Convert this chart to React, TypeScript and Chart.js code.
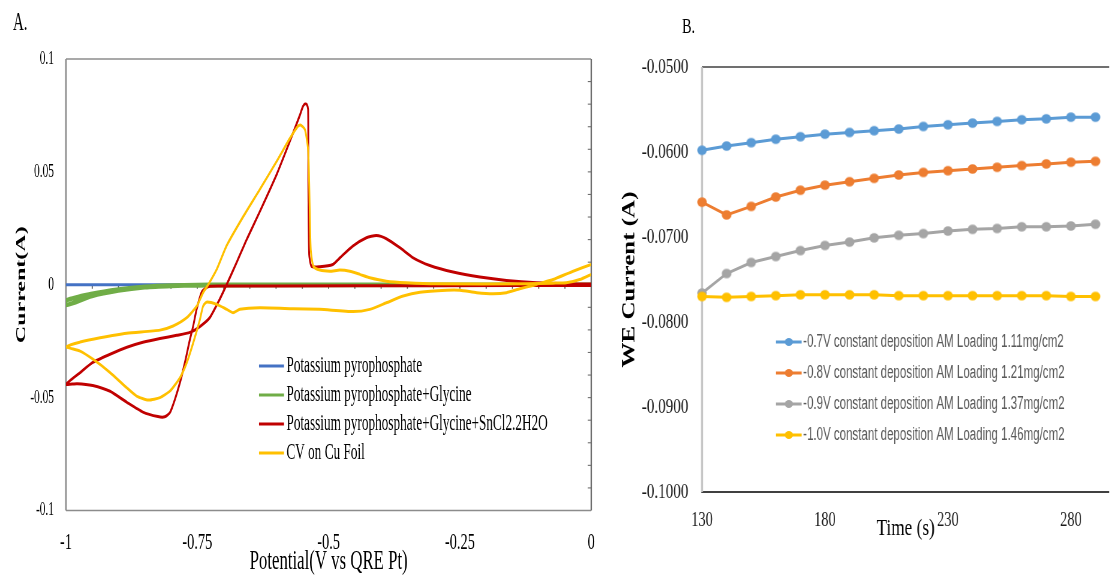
import React, { useEffect, useRef } from 'react';
import { Chart, registerables } from 'chart.js';

Chart.register(...registerables);

const SERIF = "'Liberation Serif', 'Times New Roman', serif";
const SANS = "'Liberation Sans', Arial, sans-serif";

// ================= Panel A : cyclic voltammetry =================
const seriesNamesA = [
  'Potassium pyrophosphate',
  'Potassium pyrophosphate+Glycine',
  'Potassium pyrophosphate+Glycine+SnCl2.2H2O',
  'CV on Cu Foil',
];
const colorsA = ['#4472C4', '#70AD47', '#C00000', '#FFC000'];

const bluePotential = [0, -0.25, -0.5, -0.75, -1];
const blueCurrent = [0, 0, 0, 0, 0];

const greenPotential = [0, -0.5, -0.7, -0.75, -0.8, -0.85, -0.9, -0.95, -1, -1, -0.95, -0.9, -0.85, -0.8, -0.75, -0.7, -0.5, 0];
const greenCurrent = [0, -0.0001, -0.0002, -0.0003, -0.0005, -0.0011, -0.0026, -0.0050, -0.0090, -0.0070, -0.0040, -0.0021, -0.0009, -0.0003, -0.0001, 0, 0, 0];

const redPotential = [
  0, -0.3, -0.6, -0.7, -0.728, -0.741, -0.7513, -0.7578, -0.764, -0.7736, -0.783, -0.7926, -0.802, -0.812, -0.825, -0.8535, -0.884, -0.916, -0.949, -0.979, -1.0,
  -0.973, -0.949, -0.916, -0.884, -0.8535, -0.821, -0.789, -0.764, -0.745, -0.726, -0.7075, -0.694, -0.675, -0.656, -0.631, -0.599, -0.5675, -0.555, -0.549, -0.545,
  -0.5415, -0.539, -0.5385, -0.537, -0.5326, -0.5167, -0.492, -0.4786, -0.454, -0.428, -0.409, -0.39, -0.3644, -0.339, -0.3073, -0.263, -0.212, -0.1613, -0.1042, -0.05, 0,
];
const redCurrent = [
  -0.0003, -0.0004, -0.0005, -0.0006, -0.0008, -0.003, -0.0109, -0.0183, -0.0242, -0.0345, -0.0434, -0.0508, -0.0566, -0.0585, -0.0584, -0.0564, -0.0521, -0.0472, -0.0446, -0.0438, -0.0441,
  -0.0389, -0.0344, -0.0308, -0.0277, -0.0255, -0.0238, -0.0224, -0.0211, -0.0185, -0.0145, -0.0065, 0.0001, 0.0099, 0.02, 0.0324, 0.0488, 0.0673, 0.0749, 0.0789, 0.0801,
  0.0798, 0.0776, 0.0453, 0.0134, 0.0082, 0.008, 0.009, 0.0119, 0.0171, 0.0208, 0.0218, 0.0204, 0.0164, 0.0119, 0.0085, 0.0056, 0.0034, 0.0019, 0.0009, 0.0004, 0.0003,
];

const yellowPotential = [
  0, -0.0345, -0.0727, -0.098, -0.111, -0.136, -0.1613, -0.187, -0.218, -0.25, -0.2755, -0.326, -0.358, -0.39, -0.4215, -0.453, -0.517, -0.5675, -0.631,
  -0.669, -0.6816, -0.694, -0.713, -0.7324, -0.739, -0.745, -0.7577, -0.77, -0.783, -0.802, -0.821, -0.843, -0.8655, -0.8845, -0.916, -0.948, -0.973, -1.0,
  -0.973, -0.935, -0.8845, -0.821, -0.796, -0.77, -0.751, -0.739, -0.729, -0.713, -0.694, -0.6626, -0.631, -0.599, -0.574, -0.558, -0.553, -0.545,
  -0.539, -0.537, -0.534, -0.529, -0.5167, -0.4976, -0.4786, -0.4596, -0.4405, -0.4215, -0.39, -0.352, -0.295, -0.1237, -0.073, -0.0475, -0.022, 0,
];
const yellowCurrent = [
  0.009, 0.006, 0.0023, 0.0006, -0.0003, -0.0018, -0.0035, -0.004, -0.0035, -0.0024, -0.0024, -0.0033, -0.005, -0.008, -0.0109, -0.0119, -0.0109, -0.0106, -0.0102,
  -0.0109, -0.0124, -0.0109, -0.0087, -0.0077, -0.0095, -0.0154, -0.0257, -0.0345, -0.0412, -0.0471, -0.05, -0.0511, -0.0493, -0.0456, -0.0389, -0.0331, -0.0294, -0.0274,
  -0.0254, -0.0235, -0.0215, -0.0201, -0.0183, -0.0146, -0.0095, -0.0035, 0.0001, 0.0068, 0.0174, 0.0302, 0.0422, 0.0546, 0.0647, 0.0703, 0.0707, 0.0687,
  0.0599, 0.0453, 0.0156, 0.0082, 0.0065, 0.006, 0.0065, 0.006, 0.0046, 0.0031, 0.0016, 0.0009, 0.0004, 0.0004, 0.0007, 0.0009, 0.0023, 0.0046,
];

const xTickValuesA = [-1, -0.75, -0.5, -0.25, 0];
const xTickLabelsA = ['-1', '-0.75', '-0.5', '-0.25', '0'];
const yTickValuesA = [0.1, 0.05, 0, -0.05, -0.1];
const yTickLabelsA = ['0.1', '0.05', '0', '-0.05', '-0.1'];

// ================= Panel B : constant deposition =================
const seriesNamesB = [
  '-0.7V constant deposition AM Loading 1.11mg/cm2',
  '-0.8V constant deposition AM Loading 1.21mg/cm2',
  '-0.9V constant deposition AM Loading 1.37mg/cm2',
  '-1.0V constant deposition AM Loading 1.46mg/cm2',
];
const colorsB = ['#5B9BD5', '#ED7D31', '#A5A5A5', '#FFC000'];
const timeB = [130, 140, 150, 160, 170, 180, 190, 200, 210, 220, 230, 240, 250, 260, 270, 280, 290];
const current07 = [-0.0598, -0.0593, -0.0589, -0.0585, -0.0582, -0.0579, -0.0577, -0.0575, -0.0573, -0.0570, -0.0568, -0.0566, -0.0564, -0.0562, -0.0561, -0.0559, -0.0559];
const current08 = [-0.0659, -0.0674, -0.0664, -0.0653, -0.0645, -0.0639, -0.0635, -0.0631, -0.0627, -0.0624, -0.0622, -0.0620, -0.0618, -0.0616, -0.0614, -0.0612, -0.0611];
const current09 = [-0.0766, -0.0743, -0.0730, -0.0723, -0.0716, -0.0710, -0.0706, -0.0701, -0.0698, -0.0696, -0.0693, -0.0691, -0.0690, -0.0688, -0.0688, -0.0687, -0.0685];
const current10 = [-0.0770, -0.0771, -0.0770, -0.0769, -0.0768, -0.0768, -0.0768, -0.0768, -0.0769, -0.0769, -0.0769, -0.0769, -0.0769, -0.0769, -0.0769, -0.0770, -0.0770];

const xTickValuesB = [130, 180, 230, 280];
const xTickLabelsB = ['130', '180', '230', '280'];
const yTickValuesB = [-0.05, -0.06, -0.07, -0.08, -0.09, -0.1];
const yTickLabelsB = ['-0.0500', '-0.0600', '-0.0700', '-0.0800', '-0.0900', '-0.1000'];

// ================= geometry (the reference is horizontally condensed) =================
const A_LOG_W = 1034;
const A_DISP_W = 620;
const SX_A = A_DISP_W / A_LOG_W;
const B_LOG_W = 688;
const B_DISP_W = 495;
const SX_B = B_DISP_W / B_LOG_W;
const H = 575;

function labelFor(values: number[], labels: string[], v: number) {
  const i = values.findIndex((t) => Math.abs(t - v) < 1e-9);
  return i >= 0 ? labels[i] : '';
}

function line(ctx: CanvasRenderingContext2D, x1: number, y1: number, x2: number, y2: number) {
  ctx.beginPath();
  ctx.moveTo(x1, y1);
  ctx.lineTo(x2, y2);
  ctx.stroke();
}

function condensedText(ctx: CanvasRenderingContext2D, text: string, x: number, y: number, k: number) {
  ctx.save();
  ctx.translate(x, y);
  ctx.scale(k, 1);
  ctx.fillText(text, 0, 0);
  ctx.restore();
}

function buildChartA(canvas: HTMLCanvasElement) {
  const series = [
    [bluePotential, blueCurrent],
    [greenPotential, greenCurrent],
    [redPotential, redCurrent],
    [yellowPotential, yellowCurrent],
  ];
  const datasets = series.map(([xs, ys], i) => ({
    label: seriesNamesA[i],
    data: xs.map((x, j) => ({ x, y: ys[j] })),
    borderColor: colorsA[i],
    backgroundColor: colorsA[i],
    borderWidth: i === 1 ? 4.5 : 3,
    pointRadius: 0,
    tension: i >= 2 ? 0.2 : 0.3,
    fill: false,
    order: 4 - i,
  }));

  const frameA = {
    id: 'frameA',
    beforeDatasetsDraw(chart: any) {
      const { ctx, chartArea: { left, right, top, bottom } } = chart;
      const xs = chart.scales.x;
      const ys = chart.scales.y;
      ctx.save();
      ctx.strokeStyle = '#8c8c8c';
      ctx.lineWidth = 1.3;
      line(ctx, left, top, right, top);
      ctx.lineWidth = 1.6;
      line(ctx, left, bottom, right, bottom);
      ctx.lineWidth = 1.6 / SX_A;
      line(ctx, left, top, left, bottom);
      const y0 = ys.getPixelForValue(0);
      ctx.strokeStyle = '#a6a6a6';
      ctx.lineWidth = 1;
      line(ctx, left, y0, right, y0);
      ctx.strokeStyle = '#595959';
      ctx.lineWidth = 1.1 / SX_A;
      for (let k = 1; k < 20; k++) {
        const px = xs.getPixelForValue(-1 + k * 0.05);
        line(ctx, px, y0, px, y0 + 4);
      }
      const xr = xs.getPixelForValue(0);
      ctx.strokeStyle = '#6e6e6e';
      ctx.lineWidth = 1.4 / SX_A;
      line(ctx, xr, top, xr, bottom);
      ctx.lineWidth = 1.1;
      for (let k = -9; k <= 9; k++) {
        const py = ys.getPixelForValue(k * 0.01);
        line(ctx, xr - 3.5 / SX_A, py, xr, py);
      }
      ctx.restore();
    },
  };

  const legendA = {
    id: 'legendA',
    afterDatasetsDraw(chart: any) {
      const ctx = chart.ctx;
      ctx.save();
      const x1 = 259 / SX_A;
      const x2 = 284 / SX_A;
      chart.data.datasets.forEach((ds: any, i: number) => {
        const y = 366 + i * 29;
        ctx.strokeStyle = ds.borderColor;
        ctx.lineWidth = 3;
        line(ctx, x1, y, x2, y);
        ctx.fillStyle = '#000';
        ctx.font = `23px ${SERIF}`;
        ctx.textAlign = 'left';
        ctx.textBaseline = 'middle';
        condensedText(ctx, ds.label, x2 + 4, y, 0.96);
      });
      ctx.restore();
    },
  };

  return new Chart(canvas, {
    type: 'line',
    data: { datasets },
    options: {
      responsive: false,
      animation: false,
      devicePixelRatio: 1,
      events: [],
      layout: { padding: { left: 0, top: 59, right: A_LOG_W - 986, bottom: 0 } },
      plugins: { legend: { display: false }, tooltip: { enabled: false }, title: { display: false } },
      scales: {
        x: {
          type: 'linear',
          min: -1,
          max: 0,
          grid: { display: false, drawTicks: false },
          border: { display: false },
          afterBuildTicks: (s: any) => { s.ticks = xTickValuesA.map((value) => ({ value })); },
          afterFit: (s: any) => { s.height = H - 510.5; },
          ticks: {
            autoSkip: false,
            maxRotation: 0,
            padding: 17.6,
            color: '#000',
            font: { family: SERIF, size: 24 },
            callback: (v: any) => labelFor(xTickValuesA, xTickLabelsA, Number(v)),
          },
          title: {
            display: true,
            text: 'Potential(V vs QRE Pt)',
            color: '#000',
            font: { family: SERIF, size: 28, lineHeight: 1 },
            padding: { top: 0, bottom: -1 },
          },
        },
        y: {
          type: 'linear',
          min: -0.1,
          max: 0.1,
          grid: { display: false, drawTicks: false },
          border: { display: false },
          afterBuildTicks: (s: any) => { s.ticks = yTickValuesA.map((value) => ({ value })); },
          afterFit: (s: any) => { s.width = 110; },
          ticks: {
            autoSkip: false,
            padding: 20,
            color: '#000',
            font: { family: SERIF, size: 19 },
            callback: (v: any) => labelFor(yTickValuesA, yTickLabelsA, Number(v)),
          },
          title: {
            display: true,
            text: 'Current(A)',
            color: '#000',
            font: { family: SERIF, size: 24, weight: 'bold', lineHeight: 1 },
            padding: { top: 24, bottom: 0 },
          },
        },
      },
    } as any,
    plugins: [frameA, legendA],
  });
}

function makeDot(color: string, ry: number, sx: number) {
  const rx = ry / sx;
  const c = document.createElement('canvas');
  c.width = Math.ceil(rx * 2) + 2;
  c.height = Math.ceil(ry * 2) + 2;
  const g = c.getContext('2d')!;
  g.fillStyle = color;
  g.beginPath();
  g.ellipse(c.width / 2, c.height / 2, rx, ry, 0, 0, Math.PI * 2);
  g.fill();
  return c;
}

function buildChartB(canvas: HTMLCanvasElement) {
  const values = [current07, current08, current09, current10];
  const datasets = values.map((ys, i) => ({
    label: seriesNamesB[i],
    data: timeB.map((t, j) => ({ x: t, y: ys[j] })),
    borderColor: colorsB[i],
    backgroundColor: colorsB[i],
    borderWidth: 3,
    pointStyle: makeDot(colorsB[i], 4.8, SX_B),
    pointRadius: 5,
    tension: 0,
    fill: false,
    clip: false,
    order: 4 - i,
  }));

  const frameB = {
    id: 'frameB',
    beforeDatasetsDraw(chart: any) {
      const { ctx, chartArea: { left, right, top, bottom } } = chart;
      ctx.save();
      ctx.strokeStyle = '#404040';
      ctx.lineWidth = 1.4;
      line(ctx, left, top, right, top);
      ctx.lineWidth = 2;
      line(ctx, left - 1, bottom, right, bottom);
      ctx.strokeStyle = '#bfbfbf';
      ctx.lineWidth = 1.8 / SX_B;
      line(ctx, left, top, left, bottom);
      ctx.restore();
    },
  };

  const legendB = {
    id: 'legendB',
    afterDatasetsDraw(chart: any) {
      const ctx = chart.ctx;
      ctx.save();
      const x1 = 156 / SX_B;
      const x2 = 181.7 / SX_B;
      chart.data.datasets.forEach((ds: any, i: number) => {
        const y = 342 + i * 31;
        ctx.strokeStyle = ds.borderColor;
        ctx.lineWidth = 3;
        line(ctx, x1, y, x2, y);
        ctx.fillStyle = ds.borderColor;
        ctx.beginPath();
        ctx.ellipse((x1 + x2) / 2, y, 4 / SX_B, 4, 0, 0, Math.PI * 2);
        ctx.fill();
        ctx.fillStyle = '#595959';
        ctx.font = `18px ${SANS}`;
        ctx.textAlign = 'left';
        ctx.textBaseline = 'middle';
        condensedText(ctx, ds.label, x2 + 2, y, 0.89);
      });
      ctx.restore();
    },
  };

  return new Chart(canvas, {
    type: 'line',
    data: { datasets },
    options: {
      responsive: false,
      animation: false,
      devicePixelRatio: 1,
      events: [],
      layout: { padding: { left: 0, top: 67, right: 0, bottom: 0 } },
      plugins: { legend: { display: false }, tooltip: { enabled: false }, title: { display: false } },
      scales: {
        x: {
          type: 'linear',
          min: 130,
          max: 295.6,
          grid: { display: false, drawTicks: false },
          border: { display: false },
          afterBuildTicks: (s: any) => { s.ticks = xTickValuesB.map((value) => ({ value })); },
          afterFit: (s: any) => { s.height = H - 492; },
          ticks: {
            autoSkip: false,
            maxRotation: 0,
            padding: 16.5,
            color: '#1a1a1a',
            font: { family: SERIF, size: 20 },
            callback: (v: any) => labelFor(xTickValuesB, xTickLabelsB, Number(v)),
          },
          title: {
            display: true,
            text: 'Time (s)',
            color: '#000',
            font: { family: SERIF, size: 24 },
            padding: { top: 0, bottom: 31.8 },
          },
        },
        y: {
          type: 'linear',
          min: -0.1,
          max: -0.05,
          grid: { display: false, drawTicks: false },
          border: { display: false },
          afterBuildTicks: (s: any) => { s.ticks = yTickValuesB.map((value) => ({ value })); },
          afterFit: (s: any) => { s.width = (702 - 620) / SX_B; },
          ticks: {
            autoSkip: false,
            padding: 19,
            color: '#1a1a1a',
            font: { family: SERIF, size: 21 },
            callback: (v: any) => labelFor(yTickValuesB, yTickLabelsB, Number(v)),
          },
          title: {
            display: true,
            text: 'WE Current (A)',
            color: '#000',
            font: { family: SERIF, size: 25, weight: 'bold', lineHeight: 1 },
            padding: { top: 1, bottom: 0 },
          },
        },
      },
    } as any,
    plugins: [frameB, legendB],
  });
}

export default function App() {
  const refA = useRef<HTMLCanvasElement>(null);
  const refB = useRef<HTMLCanvasElement>(null);

  useEffect(() => {
    const a = buildChartA(refA.current!);
    const b = buildChartB(refB.current!);
    return () => {
      a.destroy();
      b.destroy();
    };
  }, []);

  return (
    <div
      style={{
        position: 'absolute',
        left: 0,
        top: 0,
        width: 1115,
        height: H,
        overflow: 'hidden',
        background: '#fff',
      }}
    >
      <canvas
        ref={refA}
        width={A_LOG_W}
        height={H}
        style={{ position: 'absolute', left: 0, top: 0, width: `${A_DISP_W}px`, height: `${H}px` }}
      />
      <canvas
        ref={refB}
        width={B_LOG_W}
        height={H}
        style={{ position: 'absolute', left: 620, top: 0, width: `${B_DISP_W}px`, height: `${H}px` }}
      />
      <div
        style={{
          position: 'absolute',
          left: 13,
          top: 9,
          font: `25px ${SERIF}`,
          lineHeight: '25px',
          color: '#000',
          transform: `scaleX(${SX_A})`,
          transformOrigin: 'left top',
          whiteSpace: 'nowrap',
        }}
      >
        A.
      </div>
      <div
        style={{
          position: 'absolute',
          left: 682,
          top: 16,
          font: `20px ${SERIF}`,
          lineHeight: '20px',
          color: '#000',
          transform: `scaleX(${SX_B})`,
          transformOrigin: 'left top',
          whiteSpace: 'nowrap',
        }}
      >
        B.
      </div>
    </div>
  );
}
